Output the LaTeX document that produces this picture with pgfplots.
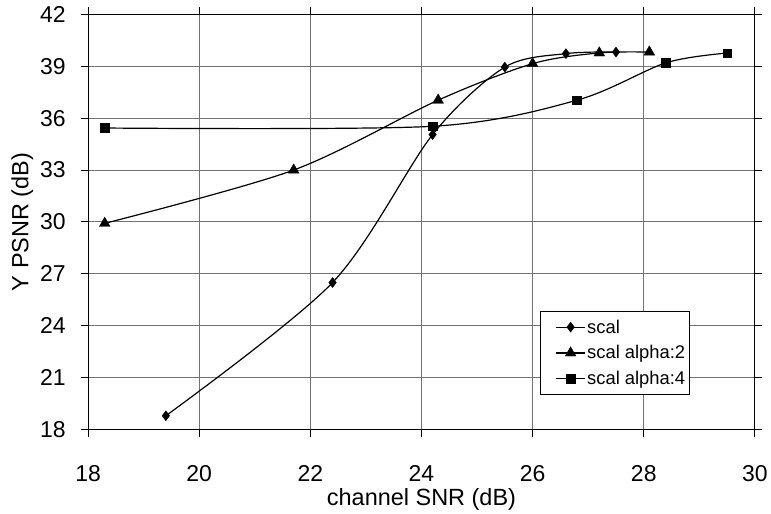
\documentclass[border=0pt]{standalone}
\usepackage{fontspec}
\setmainfont{Liberation Sans}
\usepackage{pgfplots}
\pgfplotsset{compat=1.18}

\pgfplotstableread{
x y
19.4 18.8
22.4 26.5
24.2 35.05
25.5 38.95
26.6 39.73
27.5 39.82
}\scal
\pgfplotstableread{
x y
18.3 29.92
21.7 33.0
24.3 37.04
26.0 39.15
27.2 39.77
28.1 39.82
}\scalalphatwo
\pgfplotstableread{
x y
18.3 35.43
24.2 35.53
26.8 37.04
28.4 39.2
29.5 39.76
}\scalalphafour

\begin{document}
\begin{tikzpicture}
\begin{axis}[
    scale only axis,
    width=668pt,
    height=416pt,
    xmin=18, xmax=30,
    ymin=18, ymax=42,
    xtick={18,20,...,30},
    ytick={18,21,...,42},
    grid=major,
    grid style={line width=1pt, draw=black!55},
    axis line style={line width=1.1pt, draw=black},
    tick style={line width=1pt, draw=black},
    tick align=outside,
    major tick length=7pt,
    /pgf/number format/assume math mode=true,
    tick label style={font=\fontsize{23}{26}\selectfont},
    label style={font=\fontsize{23.5}{26}\selectfont},
    xlabel={channel SNR (dB)},
    ylabel={Y PSNR (dB)},
    xticklabel style={yshift=-25pt},
    yticklabel style={xshift=-12pt},
    legend cell align={left},
    legend style={at={(0.678,0.286)}, anchor=north west, draw=black, line width=0.8pt,
        font=\fontsize{18.4}{21}\selectfont, row sep=8pt, inner xsep=15pt, inner ysep=7pt,
        nodes={inner sep=1.5pt}},
    legend image code/.code={
        \draw[mark repeat=2, mark phase=2] plot coordinates {(0pt,0pt) (14.5pt,0pt) (29pt,0pt)};
    },
    every axis plot/.append style={black, line width=1.2pt, smooth, tension=0.5},
]
\addplot[mark=diamond*, mark size=5pt, mark options={solid, fill=black, line width=0.4pt}] table[x=x, y=y] {\scal};
\addlegendentry{scal\hspace*{-12pt}}
\addplot[mark=triangle*, mark size=6.2pt, mark options={solid, fill=black, line width=0.4pt}] table[x=x, y=y] {\scalalphatwo};
\addlegendentry{scal alpha:2\hspace*{-12pt}}
\addplot[mark=square*, mark size=4.4pt, mark options={solid, fill=black, line width=0.4pt}] table[x=x, y=y] {\scalalphafour};
\addlegendentry{scal alpha:4\hspace*{-12pt}}
\end{axis}
\path (current bounding box.west) ++(-8pt,0pt);
\path (current bounding box.north) ++(0pt,3pt);
\end{tikzpicture}
\end{document}
